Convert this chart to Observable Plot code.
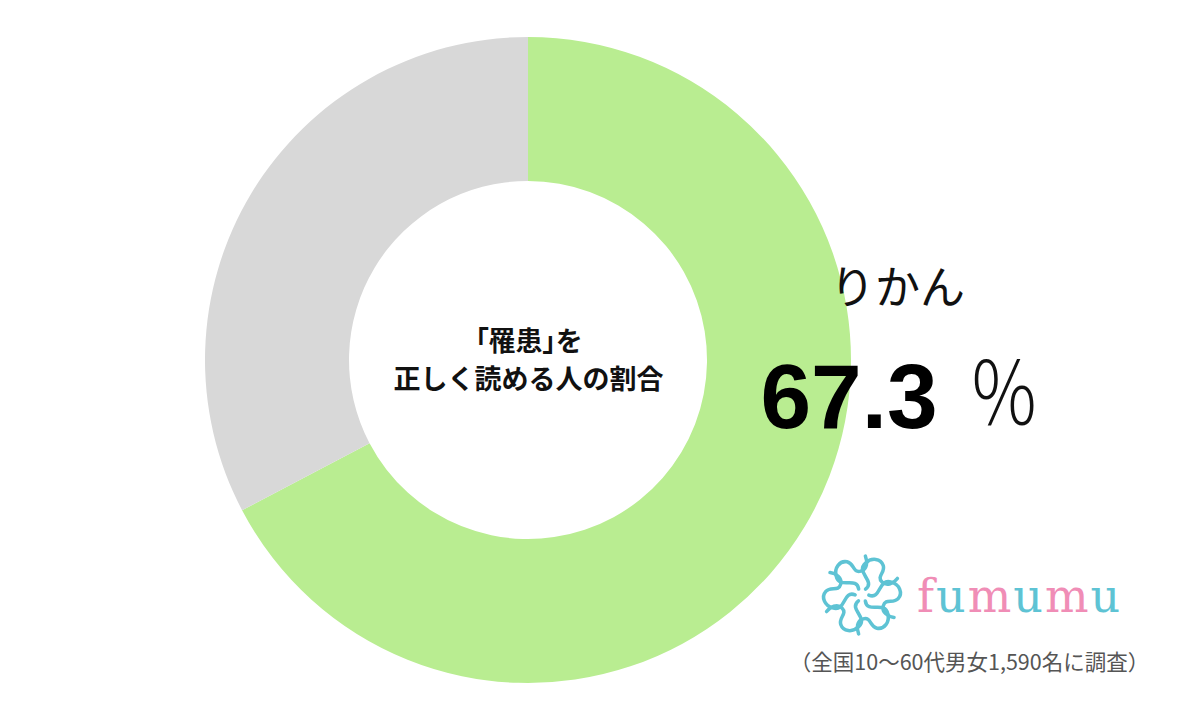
<!DOCTYPE html>
<html>
<head>
<meta charset="utf-8">
<script src="https://cdn.jsdelivr.net/npm/d3@7"></script>
<script src="https://cdn.jsdelivr.net/npm/@observablehq/plot@0.6"></script>
<style>
  html, body { margin: 0; padding: 0; background: #fff; }
  .palt { font-feature-settings: "palt"; }
</style>
</head>
<body>
<div id="chart"></div>
<script>
// ---- data ----
const categories = ["りかん", "その他"];
const values = [67.3, 32.7];
const sliceColors = ["#B9ED91", "#D8D8D8"];
const centerLines = ["「罹患」を", "正しく読める人の割合"];
const answerLabel = "りかん";
const answerValue = "67.3";
const percentSign = "％";
const brandLetters = ["f", "u", "m", "u", "m", "u"];
const brandColors = ["#F08DB6", "#5EC3D4", "#F08DB6", "#5EC3D4", "#F08DB6", "#5EC3D4"];
const caption = "（全国10〜60代男女1,590名に調査）";

const W = 1200, H = 726;
const cx = 528, cy = 360, rOuter = 323, rInner = 179;

const slices = categories.map((c, i) => ({category: c, value: values[i], color: sliceColors[i]}));

// donut mark (custom render using d3.pie / d3.arc)
function donut(index, scales, vals, dims, context) {
  const g = d3.create("svg:g").attr("transform", `translate(${scales.x(cx)},${scales.y(cy)})`);
  const pie = d3.pie().sort(null).value(d => d.value)(slices);
  const arc = d3.arc().innerRadius(rInner).outerRadius(rOuter);
  g.selectAll("path").data(pie).join("path")
    .attr("d", arc)
    .attr("fill", d => d.data.color);
  return g.node();
}

const jp = "'Noto Sans CJK JP', 'Noto Sans', sans-serif";

// percent sign, slightly condensed like the reference glyph
function percent(index, scales, vals, dims, context) {
  const g = d3.create("svg:g")
    .attr("transform", `translate(${scales.x(968)},${scales.y(426)}) scale(0.83,1)`);
  g.append("text")
    .attr("text-anchor", "start")
    .attr("font-family", jp).attr("font-size", 87).attr("font-weight", 300)
    .attr("fill", "#111")
    .text(percentSign);
  return g.node();
}

// logo mark: icon + coloured word
function logo(index, scales, vals, dims, context) {
  const g = d3.create("svg:g");
  const icon = g.append("g").attr("transform", `translate(${scales.x(862)},${scales.y(595)}) scale(1.18)`)
    .attr("fill", "none").attr("stroke", "#5EC3D4").attr("stroke-width", 3)
    .attr("stroke-linecap", "round").attr("stroke-linejoin", "round");
  const arm = "M3,-5 C12,-12 -6,-19 3,-27 C8,-32 16,-31 18,-25 C20,-19 12,-16 17,-11 C21,-7 27,-10 30,-14";
  d3.range(6).forEach(k => icon.append("path").attr("d", arm).attr("transform", `rotate(${k * 60})`));
  const t = g.append("text")
    .attr("x", scales.x(917)).attr("y", scales.y(612))
    .attr("text-anchor", "start")
    .attr("font-family", "'DejaVu Serif', 'Liberation Serif', serif")
    .attr("font-size", 46).attr("letter-spacing", 2);
  brandLetters.forEach((l, i) => t.append("tspan").attr("fill", brandColors[i]).text(l));
  return g.node();
}

const chart = Plot.plot({
  width: W,
  height: H,
  margin: 0,
  x: {domain: [0, W], range: [0, W], axis: null},
  y: {domain: [0, H], range: [0, H], axis: null},
  style: {background: "#fff"},
  marks: [
    donut,
    Plot.text([centerLines[0]], {x: () => cx, y: () => 342, text: d => d, fontFamily: jp, fontSize: 27, fontWeight: 600, fill: "#111", textAnchor: "middle", className: "palt"}),
    Plot.text([centerLines[1]], {x: () => cx, y: () => 380, text: d => d, fontFamily: jp, fontSize: 27, fontWeight: 600, fill: "#111", textAnchor: "middle"}),
    Plot.text([answerLabel], {x: () => 897, y: () => 289, text: d => d, fontFamily: jp, fontSize: 45, fill: "#111", textAnchor: "middle"}),
    Plot.text([answerValue], {x: () => 760, y: () => 427, text: d => d, fontFamily: "'Liberation Sans', Arial, sans-serif", fontSize: 91, fontWeight: "bold", fill: "#000", textAnchor: "start", lineAnchor: "bottom"}),
    percent,
    logo,
    Plot.text([caption], {x: () => 969, y: () => 663, text: d => d, fontFamily: jp, fontSize: 21.5, fill: "#555", textAnchor: "middle"})
  ]
});
document.getElementById("chart").appendChild(chart);
</script>
</body>
</html>
